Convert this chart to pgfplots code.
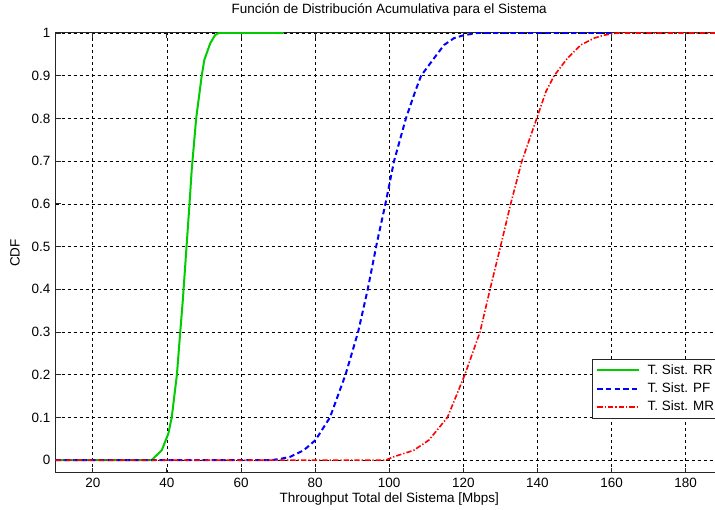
\documentclass[border=0pt]{standalone}
\usepackage{fontspec}
\setmainfont{Liberation Sans}
\usepackage{pgfplots}
\pgfplotsset{compat=1.18}
\definecolor{mgreen}{rgb}{0,0.8,0}
\begin{document}
\begin{tikzpicture}[font=\fontsize{10.1}{12.1}\selectfont]
\begin{axis}[
  scale only axis,
  width=500.25pt, height=330pt,
  xmin=10, xmax=190, ymin=-0.03, ymax=1,
  xtick={20,40,...,180},
  ytick={0,0.1,0.2,0.3,0.4,0.5,0.6,0.7,0.8,0.9,1},
  yticklabels={0,0.1,0.2,0.3,0.4,0.5,0.6,0.7,0.8,0.9,1},
  /pgf/number format/assume math mode=true,
  tick align=inside,
  major tick length=4pt,
  tick style={black!85, line width=0.6pt},
  axis line style={black!85, line width=0.75pt},
  grid=major,
  major grid style={black, line width=0.5pt, dash pattern=on 2.5pt off 2pt},
  title={Función de Distribución Acumulativa para el Sistema},
  title style={at={(axis description cs:0.5,1.034)}, anchor=center},
  xlabel={Throughput Total del Sistema [Mbps]},
  xlabel style={at={(axis description cs:0.5,-0.059)}, anchor=center},
  ylabel={CDF},
  ylabel style={at={(axis description cs:-0.061,0.5)}, anchor=center},
  xticklabel style={yshift=-0.5pt},
  yticklabel style={xshift=-0.5pt},
  legend style={at={(axis cs:154.7,0.238)}, anchor=north west, draw=black!85, line width=0.6pt, fill=white,
    font=\fontsize{10.1}{12.1}\selectfont, row sep=1pt, inner sep=2pt},
  legend cell align=left,
  legend image code/.code={\path (-1pt,0pt); \draw[#1] (0pt,0pt) -- (31.5pt,0pt); \path (35pt,0pt);},
]
\addplot[mgreen, line width=1.5pt] coordinates {
(10,0)(35.9,0)(36.8,0.008)(38.6,0.023)(40.4,0.0625)(41.3,0.1)(42.7,0.2)(43.6,0.3)(44.3,0.375)(45.3,0.5)(46.1,0.6)(46.7,0.68)(47.9,0.8)(49.4,0.9)(50.1,0.937)(51.7,0.976)(53,0.995)(54,1)(71.5,1)};
\addlegendentry{T. Sist. RR}
\addplot[blue, line width=1.5pt, dash pattern=on 4pt off 2.5pt] coordinates {
(10,0)(68,0)(70.6,0.003)(73.3,0.008)(76.9,0.023)(80.1,0.047)(84,0.1)(88.2,0.2)(91.6,0.3)(94.2,0.4)(96.7,0.51)(99,0.601)(101.3,0.7)(104.5,0.8)(107,0.863)(108.6,0.9)(112.1,0.941)(114.8,0.972)(117.5,0.988)(120.2,0.995)(123.8,1)(160,1)};
\addlegendentry{T. Sist. PF}
\addplot[red, line width=1.2pt, dash pattern=on 4pt off 1.5pt on 1pt off 1.5pt] coordinates {
(10,0)(99,0)(101.2,0.008)(106.6,0.023)(110.7,0.047)(115.7,0.1)(120.4,0.2)(124.5,0.3)(127.2,0.4)(130.3,0.51)(132.8,0.601)(135.8,0.7)(139.8,0.8)(142.3,0.863)(144.5,0.9)(148.1,0.941)(151.7,0.972)(155.3,0.988)(158,0.995)(161.6,1)(190,1)};
\addlegendentry{T. Sist. MR}
\end{axis}
\pgfresetboundingbox
\path[use as bounding box] ([xshift=-41.8pt,yshift=-27.75pt]current axis.south west) rectangle ([xshift=494.45pt,yshift=354.75pt]current axis.south west);
\end{tikzpicture}
\end{document}
